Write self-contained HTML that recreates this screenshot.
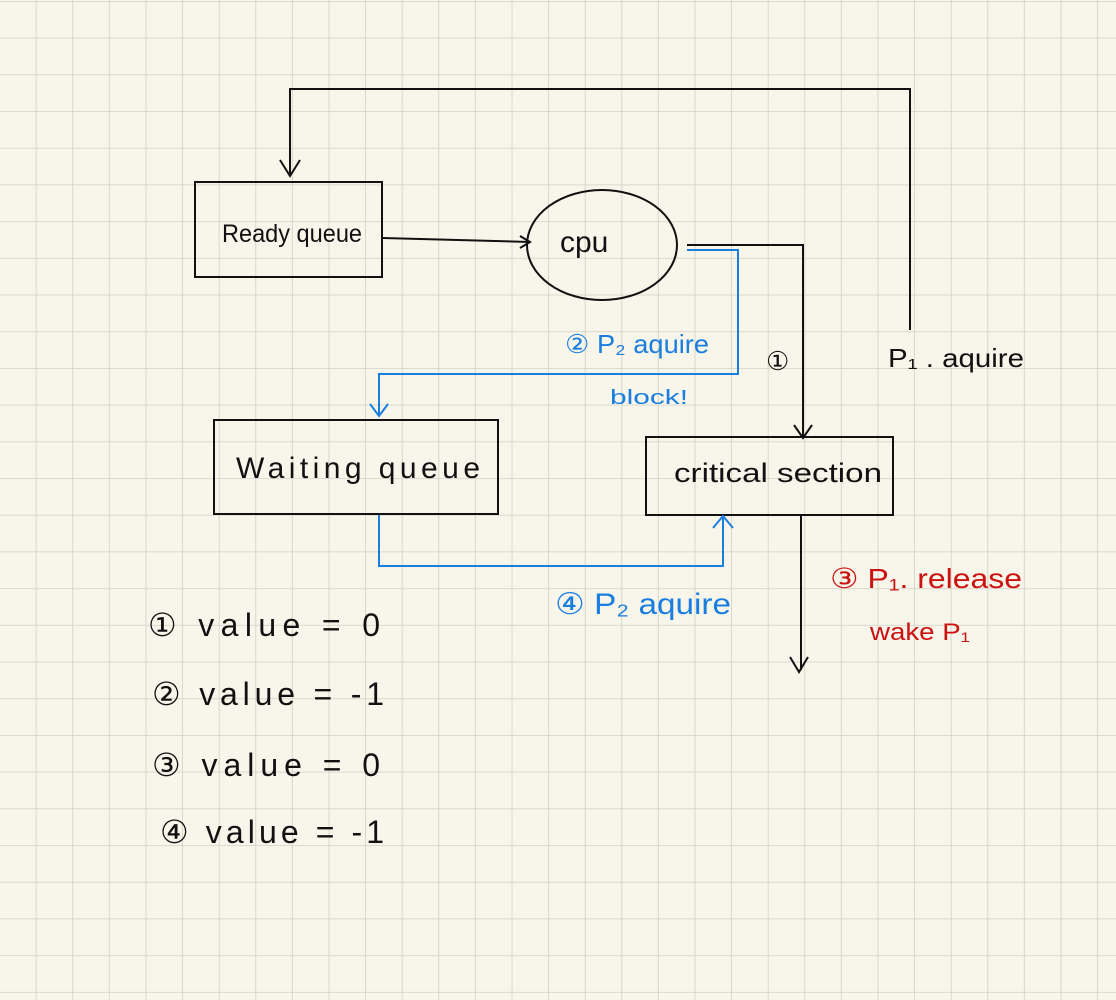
<!DOCTYPE html>
<html><head><meta charset="utf-8"><style>
html,body{margin:0;padding:0;background:#f8f5ea;}
svg{display:block}
text{font-family:"Liberation Sans",sans-serif;}
</style></head><body>
<svg width="1116" height="1000" viewBox="0 0 1116 1000" xmlns="http://www.w3.org/2000/svg">
<defs>
<pattern id="g" x="0" y="1" width="36.6" height="36.7" patternUnits="userSpaceOnUse">
<path d="M36.6 0V36.7M0 0H36.6" stroke="#d2d0c3" stroke-width="1.6" fill="none"/>
</pattern>
</defs>
<rect width="1116" height="1000" fill="#f8f5ea"/>
<rect width="1116" height="1000" fill="url(#g)"/>
<g stroke="#111" stroke-width="2" fill="none">
<rect x="195" y="182" width="187" height="95"/>
<ellipse cx="602" cy="245" rx="75" ry="55"/>
<rect x="214" y="420" width="284" height="94"/>
<rect x="646" y="437" width="247" height="78"/>
<path d="M910 330V89H290V175"/>
<path d="M280 160L290 176L300 160"/>
<path d="M383 238L530 242"/>
<path d="M520 236L530 242L520 248"/>
<path d="M687 245H803V438"/>
<path d="M794 425L803 438L812 425"/>
<path d="M801 515V670"/>
<path d="M790 657L799 672L808 657"/>
</g>
<g stroke="#1a7ee0" stroke-width="2" fill="none">
<path d="M687 250H738V374H379V415"/>
<path d="M370 404L379 416L388 404"/>
<path d="M379 515V566H723V518"/>
<path d="M713 528L723 516L733 528"/>
</g>
<g fill="#111">
<text x="222" y="242" font-size="25" textLength="140" lengthAdjust="spacingAndGlyphs">Ready queue</text>
<text x="560" y="252" font-size="30">cpu</text>
<text x="236" y="478" font-size="30" textLength="244" lengthAdjust="spacing">Waiting  queue</text>
<text x="674" y="482" font-size="27" textLength="208" lengthAdjust="spacingAndGlyphs">critical  section</text>
<text x="888" y="367" font-size="26" textLength="136" lengthAdjust="spacingAndGlyphs">P₁ . aquire</text>
<text x="766" y="370" font-size="26">①</text>
</g>
<g fill="#1a7ee0">
<text x="565" y="353" font-size="26" textLength="144" lengthAdjust="spacingAndGlyphs">② P₂ aquire</text>
<text x="610" y="404" font-size="20" textLength="78" lengthAdjust="spacingAndGlyphs">block!</text>
<text x="555" y="614" font-size="30" textLength="176" lengthAdjust="spacingAndGlyphs">④ P₂ aquire</text>
</g>
<g fill="#cc1111">
<text x="830" y="588" font-size="28" textLength="192" lengthAdjust="spacingAndGlyphs">③ P₁. release</text>
<text x="870" y="640" font-size="24" textLength="100" lengthAdjust="spacingAndGlyphs">wake P₁</text>
</g>
<g fill="#111" font-size="32">
<text x="148" y="636" textLength="232" lengthAdjust="spacing">①  value  =  0</text>
<text x="152" y="705" textLength="232" lengthAdjust="spacing">②  value  = -1</text>
<text x="152" y="776" textLength="228" lengthAdjust="spacing">③  value  =  0</text>
<text x="160" y="843" textLength="224" lengthAdjust="spacing">④  value  = -1</text>
</g>
</svg>
</body></html>
